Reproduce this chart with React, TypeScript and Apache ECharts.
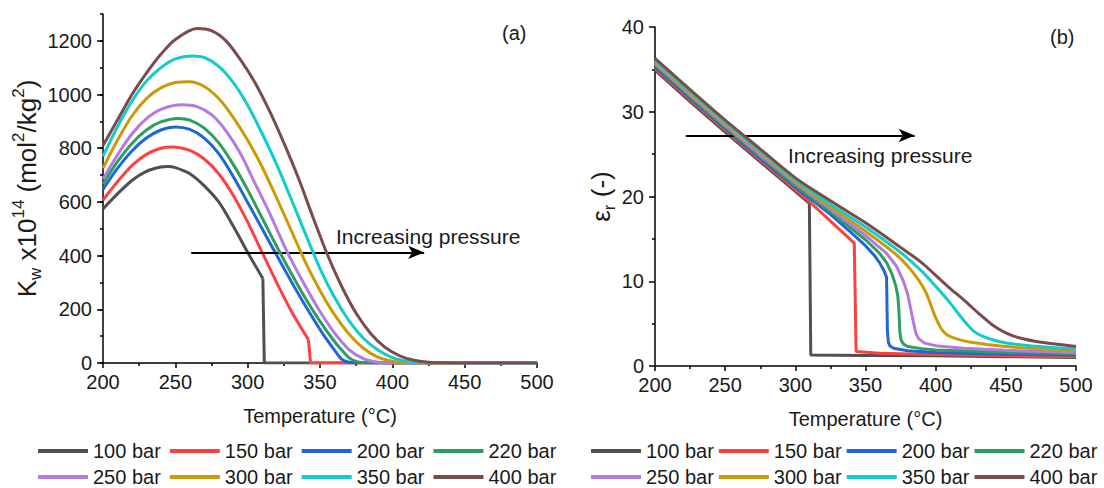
import React, { useEffect, useRef } from "react";
import * as echarts from "echarts";

const NAMES = ["100 bar", "150 bar", "200 bar", "220 bar", "250 bar", "300 bar", "350 bar", "400 bar"];
const COLORS = ["#505050", "#ff4040", "#1f66d8", "#2e9e5e", "#b27ae2", "#cc9a06", "#12cccc", "#7a4c4c"];

const X_TICKS = [200, 250, 300, 350, 400, 450, 500];
const KW_TICKS = [0, 200, 400, 600, 800, 1000, 1200];
const EPS_TICKS = [0, 10, 20, 30, 40];

// Kw x10^14 (mol2/kg2) vs T (°C); smooth part, then (for 100/150 bar) the straight drop to zero
const kw100 = [[200,574],[210,630],[220,680],[230,714],[240,730],[245,732],[250,728],[260,705],[270,660],[280,600],[290,510],[300,412],[310.5,315]];
const kw100Drop = [[310.5,315],[311.5,0],[500,0]];
const kw150 = [[200,607],[210,675],[220,735],[230,777],[240,800],[248,805],[260,792],[270,760],[280,705],[290,625],[300,525],[310,412],[320,300],[330,195],[342,87]];
const kw150Drop = [[342,87],[343.5,0],[500,0]];
const kw200 = [[200,647],[210,725],[220,790],[230,838],[240,868],[250,879],[260,870],[270,838],[280,780],[290,695],[300,598],[310,500],[320,402],[330,305],[340,212],[350,125],[355,85],[360,48],[365,14],[370,3],[380,0.5],[500,0]];
const kw220 = [[200,666],[210,750],[220,818],[230,868],[240,898],[252,911],[260,905],[270,875],[280,820],[290,740],[300,645],[310,540],[320,435],[330,335],[340,240],[350,155],[360,80],[365,48],[370,20],[375,6],[380,1.5],[390,0.3],[500,0]];
const kw250 = [[200,685],[210,775],[220,853],[230,910],[240,945],[255,962],[265,955],[275,925],[285,865],[295,780],[305,670],[315,560],[325,440],[330,385],[340,285],[350,192],[360,112],[370,50],[380,16],[390,3],[400,0.5],[500,0]];
const kw300 = [[200,726],[210,830],[220,920],[230,985],[240,1025],[250,1045],[260,1048],[270,1030],[280,985],[290,915],[300,830],[310,730],[320,615],[330,495],[340,375],[350,270],[360,180],[370,108],[380,55],[390,22],[400,7],[410,2],[420,0.4],[500,0]];
const kw350 = [[200,770],[210,880],[220,975],[230,1050],[240,1100],[250,1133],[262,1144],[270,1138],[280,1105],[290,1045],[300,960],[310,855],[320,740],[330,612],[340,480],[350,352],[360,245],[370,158],[380,92],[390,48],[400,20],[410,7],[420,2],[430,0.5],[500,0]];
const kw400 = [[200,810],[210,905],[220,1000],[230,1080],[240,1150],[250,1205],[265,1246],[275,1238],[285,1200],[295,1130],[305,1045],[315,940],[325,820],[335,690],[345,545],[355,405],[365,285],[375,185],[385,110],[395,58],[405,27],[415,10],[425,3],[435,1],[450,0],[500,0]];

// relative permittivity eps_r vs T (°C)
const ep100 = [[200,34.9],[225,31.2],[250,27.6],[275,24.1],[300,20.6],[310,19.2],[311,1.3],[350,1.25],[400,1.2],[450,1.1],[500,1.0]];
const ep150 = [[200,35.1],[225,31.4],[250,27.8],[275,24.3],[300,20.8],[310,19.4],[342,14.5],[343.3,1.7],[360,1.5],[400,1.35],[450,1.2],[500,1.1]];
const ep200 = [[200,35.3],[225,31.6],[250,28.0],[275,24.5],[300,21.1],[325,17.9],[340,15.7],[350,14.2],[356,13.1],[360,12.2],[363,11.3],[365,10.5],[365.6,4.2],[366.3,2.8],[367.5,2.35],[370,2.1],[380,1.8],[400,1.6],[450,1.4],[500,1.3]];
const ep220 = [[200,35.5],[225,31.8],[250,28.2],[275,24.7],[300,21.3],[325,18.2],[350,14.9],[360,13.3],[365,12.2],[369,10.8],[371.5,9.5],[373,8.3],[373.8,6.5],[374.5,4.0],[375.3,3.1],[377,2.6],[380,2.3],[390,2.05],[400,1.9],[450,1.6],[500,1.45]];
const ep250 = [[200,35.7],[225,32.0],[250,28.4],[275,24.9],[300,21.6],[325,18.5],[350,15.4],[365,13.3],[372,11.8],[377,10.0],[380,8.5],[382,6.9],[384,5.3],[386,3.8],[388,3.2],[392,2.7],[400,2.4],[420,2.1],[450,1.85],[500,1.6]];
const ep300 = [[200,35.9],[225,32.2],[250,28.6],[275,25.2],[300,21.8],[325,18.8],[350,15.9],[370,13.4],[380,11.8],[388,10.1],[393,8.7],[397,7.0],[400,5.7],[404,4.4],[408,3.7],[415,3.2],[425,2.8],[450,2.3],[475,2.0],[500,1.85]];
const ep350 = [[200,36.1],[225,32.4],[250,28.8],[275,25.4],[300,22.0],[325,19.1],[350,16.4],[375,13.4],[390,11.2],[400,9.4],[410,7.5],[417,6.0],[422,5.0],[428,4.0],[435,3.4],[445,2.9],[460,2.5],[480,2.2],[500,2.0]];
const ep400 = [[200,36.3],[225,32.6],[250,29.0],[275,25.6],[300,22.2],[325,19.5],[350,16.9],[375,14.0],[390,12.2],[400,10.7],[410,9.2],[420,7.8],[430,6.3],[440,4.9],[450,3.9],[460,3.3],[475,2.8],[490,2.5],[500,2.3]];

const KW = [kw100, kw150, kw200, kw220, kw250, kw300, kw350, kw400];
const KW_DROPS: Record<number, number[][]> = { 0: kw100Drop, 1: kw150Drop };
const EPS = [ep100, ep150, ep200, ep220, ep250, ep300, ep350, ep400];

// annotation arrows in data coordinates
const ARROW_A = [[261, 412], [422, 412]];
const ARROW_B = [[222, 27.2], [385, 27.2]];

const FONT = "'Liberation Sans', Arial, Helvetica, sans-serif";
const TXT = "#1a1a1a";

export default function App() {
  const ref = useRef<HTMLDivElement>(null);
  useEffect(() => {
    document.body.style.margin = "0";
    const chart = echarts.init(ref.current!, null, { renderer: "svg" });
    const axisLine = { show: true, lineStyle: { color: "#000", width: 1.5 } };
    const xAxisBase = (gridIndex: number) => ({
      type: "value",
      gridIndex,
      min: 200,
      max: 500,
      interval: 50,
      axisLine,
      axisTick: { show: true, inside: false, length: 5, lineStyle: { color: "#000", width: 1.5 } },
      minorTick: { show: true, splitNumber: 2, length: 3, lineStyle: { color: "#000", width: 1.5 } },
      splitLine: { show: false },
      axisLabel: { fontSize: 20, color: TXT, margin: 9, fontFamily: FONT, customValues: X_TICKS },
      name: "Temperature (°C)",
      nameLocation: "middle",
      nameGap: 43,
      nameTextStyle: { fontSize: 20, color: TXT, fontFamily: FONT },
    });
    const line = (name: string, color: string, data: number[][], xi: number, yi: number, smooth: number | boolean, z: number) => ({
      type: "line",
      name,
      xAxisIndex: xi,
      yAxisIndex: yi,
      data,
      smooth,
      showSymbol: false,
      symbol: "none",
      lineStyle: { color, width: 3 },
      itemStyle: { color },
      z,
    });
    const arrowLine = (arrow: number[][]) => ({
      silent: true,
      symbol: ["none", "arrow"],
      symbolSize: [10, 16],
      label: { show: false },
      lineStyle: { color: "#000", width: 2, type: "solid" },
      data: [[{ coord: arrow[0] }, { coord: arrow[1] }]],
    });
    const series: any[] = [];
    KW.forEach((d, i) => {
      const s: any = line(NAMES[i], COLORS[i], d, 0, 0, 0.3, 2 + i);
      if (i === 7) s.markLine = arrowLine(ARROW_A);
      series.push(s);
      if (KW_DROPS[i]) series.push(line(NAMES[i], COLORS[i], KW_DROPS[i], 0, 0, false, 2 + i));
    });
    EPS.forEach((d, i) => {
      const s: any = line(NAMES[i], COLORS[i], d, 1, 2, i >= 5 ? 0.3 : false, 2 + i);
      if (i === 7) s.markLine = arrowLine(ARROW_B);
      series.push(s);
    });
    const legendBase = {
      icon: "rect",
      itemWidth: 50,
      itemHeight: 4,
      padding: 0,
      textStyle: { fontSize: 20, color: TXT, fontFamily: FONT },
      orient: "horizontal",
    };
    chart.setOption({
      animation: false,
      textStyle: { fontFamily: FONT },
      grid: [
        { left: 103, top: 14, width: 434, height: 349 },
        { left: 655, top: 27, width: 421, height: 339 },
      ],
      xAxis: [xAxisBase(0), xAxisBase(1)],
      yAxis: [
        {
          type: "value",
          gridIndex: 0,
          position: "left",
          min: 0,
          max: 1300,
          interval: 100,
          axisLine,
          axisTick: { show: true, length: 6, customValues: KW_TICKS, lineStyle: { color: "#000", width: 1.5 } },
          splitLine: { show: false },
          axisLabel: {
            fontSize: 20,
            color: TXT,
            margin: 11,
            fontFamily: FONT,
            customValues: KW_TICKS,
            formatter: (v: number) => (v % 200 === 0 && v <= 1200 ? String(v) : ""),
          },
          name: "{n|K}{sub|w}{n| x10}{sup|14}{n| (mol}{sup|2}{n|/kg}{sup|2}{n|)}",
          nameLocation: "middle",
          nameRotate: 90,
          nameGap: 58,
          nameTextStyle: {
            color: TXT,
            fontFamily: FONT,
            rich: {
              n: { fontSize: 26, lineHeight: 34, color: TXT, fontFamily: FONT },
              sup: { fontSize: 17, lineHeight: 17, verticalAlign: "top", color: TXT, fontFamily: FONT },
              sub: { fontSize: 17, lineHeight: 17, verticalAlign: "bottom", color: TXT, fontFamily: FONT },
            },
          },
        },
        {
          type: "value",
          gridIndex: 0,
          position: "left",
          offset: 0,
          min: 0,
          max: 1300,
          interval: 100,
          axisLine: { show: false },
          axisTick: { show: true, length: 3, lineStyle: { color: "#000", width: 1.5 } },
          axisLabel: { show: false },
          splitLine: { show: false },
        },
        {
          type: "value",
          gridIndex: 1,
          position: "left",
          min: 0,
          max: 40,
          interval: 10,
          axisLine,
          axisTick: { show: true, length: 6, lineStyle: { color: "#000", width: 1.5 } },
          minorTick: { show: true, splitNumber: 2, length: 3, lineStyle: { color: "#000", width: 1.5 } },
          splitLine: { show: false },
          axisLabel: { fontSize: 20, color: TXT, margin: 11, fontFamily: FONT, customValues: EPS_TICKS },
          name: "{n|ε}{sub|r}{n| (-)}",
          nameLocation: "middle",
          nameRotate: 90,
          nameGap: 31,
          nameTextStyle: {
            color: TXT,
            fontFamily: FONT,
            rich: {
              n: { fontSize: 26, lineHeight: 34, color: TXT, fontFamily: FONT },
              sub: { fontSize: 17, lineHeight: 17, verticalAlign: "bottom", color: TXT, fontFamily: FONT },
            },
          },
        },
      ],
      legend: [
        { ...legendBase, left: 38, top: 441, itemGap: 9, data: NAMES.slice(0, 4) },
        { ...legendBase, left: 38, top: 467, itemGap: 9, data: NAMES.slice(4) },
        { ...legendBase, left: 591, top: 441, itemGap: 5, data: NAMES.slice(0, 4) },
        { ...legendBase, left: 591, top: 467, itemGap: 5, data: NAMES.slice(4) },
      ],
      graphic: [
        { type: "text", left: 502, top: 23, style: { text: "(a)", fontSize: 20, fill: TXT, fontFamily: FONT } },
        { type: "text", left: 1050, top: 27, style: { text: "(b)", fontSize: 20, fill: TXT, fontFamily: FONT } },
        { type: "text", left: 336, top: 226, style: { text: "Increasing pressure", fontSize: 21, fill: TXT, fontFamily: FONT } },
        { type: "text", left: 788, top: 145, style: { text: "Increasing pressure", fontSize: 21, fill: TXT, fontFamily: FONT } },
      ],
      series,
    });
    return () => chart.dispose();
  }, []);
  return <div ref={ref} style={{ width: 1104, height: 488 }} />;
}
